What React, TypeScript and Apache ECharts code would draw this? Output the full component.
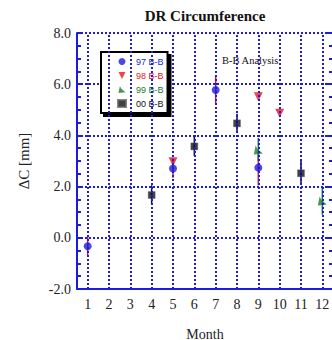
import React, { useEffect, useRef } from "react";
import * as echarts from "echarts";

const months = [1, 2, 3, 4, 5, 6, 7, 8, 9, 10, 11, 12];
const yTicks = [-2, 0, 2, 4, 6, 8];

const s97 = [[1, -0.33], [5, 2.71], [7, 5.77], [9, 2.74]];
const s98 = [[5, 2.97], [9, 5.51], [10, 4.87]];
const s99 = [[9, 3.43], [12, 1.44]];
const s00 = [[4, 1.67], [6, 3.57], [8, 4.47], [11, 2.52]];

// error bars: [month, low, high]
const e97 = [[1, -0.7, 0.05], [5, 2.35, 3.1], [7, 5.25, 6.35], [9, 2.05, 3.4]];
const e99 = [[9, 3.0, 3.9], [12, 0.9, 1.95]];
const e00 = [[4, 1.3, 2.05], [6, 3.2, 3.95], [8, 4.1, 4.85], [11, 2.1, 3.0]];

const BLUE = "#1c1ce0";
const RED = "#e8141e";
const GREEN = "#1a7a2a";
const BLACK = "#111111";
const SERIF = "'Liberation Serif', 'DejaVu Serif', serif";
const SANS = "'Liberation Sans', Arial, sans-serif";

function errSeries(data: number[][], color: string) {
  return {
    type: "custom",
    z: 1,
    silent: true,
    data,
    renderItem: (params: any, api: any) => {
      const a = api.coord([api.value(0), api.value(1)]);
      const b = api.coord([api.value(0), api.value(2)]);
      return {
        type: "line",
        shape: { x1: a[0], y1: a[1], x2: b[0], y2: b[1] },
        style: { stroke: color, lineWidth: 1.5 },
      };
    },
  };
}

export default function App() {
  const ref = useRef<HTMLDivElement>(null);
  useEffect(() => {
    if (!ref.current) return;
    const chart = echarts.init(ref.current, undefined, { renderer: "svg" });
    chart.setOption({
      animation: false,
      backgroundColor: "#ffffff",
      grid: {
        left: 77,
        right: -1,
        top: 33,
        bottom: 51,
        containLabel: false,
        outerBoundsMode: "none",
      },
      graphic: [
        {
          type: "text",
          x: 205,
          y: 16,
          style: {
            text: "DR Circumference",
            font: `bold 15px ${SERIF}`,
            fill: "#111",
            textAlign: "center",
            textVerticalAlign: "middle",
          },
        },
        {
          type: "text",
          x: 222,
          y: 60,
          style: {
            text: "B-B Analysis",
            font: `10.5px ${SERIF}`,
            fill: "#111",
            textAlign: "left",
            textVerticalAlign: "middle",
          },
        },
      ],
      legend: {
        orient: "vertical",
        left: 101,
        top: 52,
        padding: [5, 4, 5, 16],
        itemWidth: 8,
        itemHeight: 7,
        itemGap: 5,
        backgroundColor: "#fff",
        borderColor: "#000",
        borderWidth: 2,
        borderRadius: 0,
        shadowColor: "#000",
        shadowOffsetX: 3,
        shadowOffsetY: 3,
        shadowBlur: 0,
        textStyle: { fontFamily: SANS, fontSize: 9, lineHeight: 9, padding: [0, 0, 0, 5] },
        data: [
          { name: "97 B-B", textStyle: { color: BLUE } },
          { name: "98 B-B", textStyle: { color: RED } },
          { name: "99 B-B", textStyle: { color: GREEN } },
          { name: "00 B-B", textStyle: { color: BLACK } },
        ],
      },
      xAxis: {
        type: "value",
        min: 0.5,
        max: 12.5,
        interval: 0.5,
        name: "Month",
        nameLocation: "middle",
        nameGap: 38,
        nameTextStyle: { fontFamily: SERIF, fontSize: 14, color: "#222" },
        axisLine: { show: true, onZero: false, lineStyle: { color: BLUE, width: 2 } },
        axisTick: { show: false },
        splitLine: { show: false },
        axisLabel: {
          fontFamily: SERIF,
          fontSize: 14,
          color: "#222",
          margin: 8,
          formatter: (v: number) => (months.includes(v) ? String(v) : ""),
        },
      },
      yAxis: [
        {
          type: "value",
          min: yTicks[0],
          max: yTicks[yTicks.length - 1],
          interval: 2,
          name: "\u0394C [mm]",
          nameLocation: "middle",
          nameGap: 46,
          nameRotate: 90,
          nameTextStyle: { fontFamily: SERIF, fontSize: 15, color: "#222" },
          axisLine: { show: true, onZero: false, lineStyle: { color: BLUE, width: 2 } },
          axisTick: { show: true, inside: true, length: 6, lineStyle: { color: BLUE, width: 2 } },
          minorTick: { show: true, splitNumber: 4, length: 4, lineStyle: { color: BLUE, width: 2 } },
          splitLine: { show: true, lineStyle: { color: BLUE, width: 2, type: [2, 2] } },
          axisLabel: {
            fontFamily: SERIF,
            fontSize: 14,
            color: "#222",
            margin: 6,
            formatter: (v: number) => v.toFixed(1),
          },
        },
        {
          type: "value",
          position: "right",
          min: yTicks[0],
          max: yTicks[yTicks.length - 1],
          interval: 2,
          axisLine: { show: true, onZero: false, lineStyle: { color: BLUE, width: 2 } },
          axisTick: { show: true, inside: true, length: 6, lineStyle: { color: BLUE, width: 2 } },
          minorTick: { show: true, splitNumber: 4, length: 4, lineStyle: { color: BLUE, width: 2 } },
          splitLine: { show: false },
          axisLabel: { show: false },
        },
      ],
      series: [
        {
          ...errSeries(e97, RED),
          markLine: {
            silent: true,
            symbol: "none",
            label: { show: false },
            lineStyle: { color: BLUE, width: 2, type: [2, 2] },
            data: months.map((m) => ({ xAxis: m })),
          },
        },
        errSeries(e99, GREEN),
        errSeries(e00, BLACK),
        {
          name: "97 B-B",
          type: "scatter",
          z: 3,
          symbol: "circle",
          symbolSize: 8,
          itemStyle: { color: BLUE },
          data: s97,
        },
        {
          name: "98 B-B",
          type: "scatter",
          z: 3,
          symbol: "path://M0,0 L10,0 L5,10 Z",
          symbolSize: [9, 9],
          itemStyle: { color: RED },
          data: s98,
        },
        {
          name: "99 B-B",
          type: "scatter",
          z: 3,
          symbol: "path://M2,0 L4,4 L10,9 L0,10 Z",
          symbolSize: [9, 9],
          itemStyle: { color: GREEN },
          data: s99,
        },
        {
          name: "00 B-B",
          type: "scatter",
          z: 3,
          symbol: "rect",
          symbolSize: 7,
          itemStyle: { color: BLACK, borderColor: "#666", borderWidth: 0.5 },
          data: s00,
        },
      ],
    });
    return () => chart.dispose();
  }, []);
  return (
    <div
      ref={ref}
      style={{ position: "absolute", left: 0, top: 0, width: 332, height: 340 }}
    />
  );
}
